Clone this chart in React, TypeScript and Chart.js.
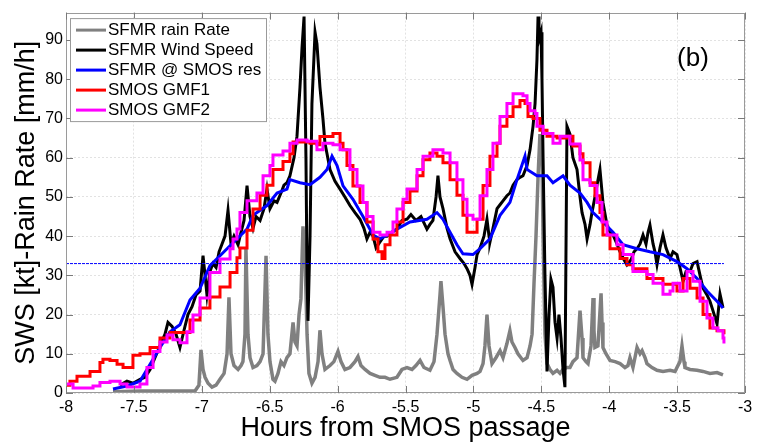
import React, { useEffect, useRef } from 'react';
import { Chart, registerables } from 'chart.js';

Chart.register(...registerables);

const xTickValues = [-8, -7.5, -7, -6.5, -6, -5.5, -5, -4.5, -4, -3.5, -3];
const yTickValues = [0, 10, 20, 30, 40, 50, 60, 70, 80, 90];

const seriesLabels = ['SFMR rain Rate', 'SFMR Wind Speed', 'SFMR @ SMOS res', 'SMOS GMF1', 'SMOS GMF2'];
const seriesColors = ['#808080', '#000000', '#0000ff', '#ff0000', '#ff00ff'];

// SFMR rain rate [mm/h]
const rainHours = [-7.654, -7.455, -7.234, -7.05, -7.021, -7.006, -6.991, -6.976, -6.954, -6.925, -6.895, -6.866, -6.836, -6.814, -6.8, -6.785, -6.763, -6.733, -6.711, -6.697, -6.682, -6.675, -6.66, -6.645, -6.623, -6.594, -6.571, -6.549, -6.527, -6.513, -6.498, -6.476, -6.461, -6.439, -6.417, -6.395, -6.373, -6.351, -6.328, -6.314, -6.299, -6.284, -6.27, -6.255, -6.24, -6.225, -6.211, -6.189, -6.166, -6.144, -6.13, -6.115, -6.093, -6.056, -6.027, -5.997, -5.975, -5.946, -5.909, -5.872, -5.85, -5.828, -5.798, -5.761, -5.725, -5.688, -5.651, -5.614, -5.563, -5.526, -5.489, -5.452, -5.423, -5.393, -5.364, -5.32, -5.29, -5.268, -5.246, -5.239, -5.224, -5.209, -5.187, -5.172, -5.15, -5.121, -5.084, -5.047, -5.01, -4.973, -4.951, -4.929, -4.915, -4.9, -4.885, -4.863, -4.834, -4.804, -4.782, -4.753, -4.731, -4.716, -4.694, -4.672, -4.635, -4.605, -4.583, -4.568, -4.554, -4.539, -4.524, -4.51, -4.495, -4.487, -4.473, -4.458, -4.436, -4.414, -4.384, -4.362, -4.34, -4.311, -4.289, -4.267, -4.237, -4.215, -4.2, -4.193, -4.171, -4.156, -4.134, -4.119, -4.112, -4.105, -4.083, -4.06, -4.053, -4.046, -4.024, -3.994, -3.957, -3.92, -3.884, -3.862, -3.847, -3.825, -3.795, -3.773, -3.758, -3.736, -3.722, -3.685, -3.648, -3.604, -3.552, -3.515, -3.501, -3.479, -3.464, -3.449, -3.442, -3.405, -3.353, -3.309, -3.258, -3.206, -3.162];
const rainRate = [0.3, 0.5, 0.5, 0.5, 2, 11, 6, 4, 2.5, 1.5, 2, 3.5, 5, 10, 24.4, 10, 7, 6, 7, 8, 15, 37, 15, 9, 6.5, 7, 8, 10, 35, 15, 8, 3.5, 3, 5, 8, 7, 9, 10, 18, 13, 12, 20, 24, 42.5, 35, 15, 5, 2.5, 4, 8, 16, 10, 6, 7, 8, 10.6, 8, 6, 6.5, 8, 9.3, 7, 6, 5, 4.5, 4, 4, 3.5, 4, 6, 6.5, 6, 7, 8.3, 6.5, 5.8, 8, 15, 25, 28.5, 22, 15, 10, 8.3, 6, 5, 4, 3.5, 4.5, 5, 5.5, 7.5, 12, 20, 12, 7.5, 9, 10.8, 9, 12.6, 15.9, 13, 11.6, 10, 8.3, 9, 12, 15, 27.7, 40, 55, 66, 60, 40, 15, 7.5, 6, 5, 5.8, 5, 6, 6.5, 6.5, 8, 9, 21, 14, 9, 8, 7.5, 12, 24.2, 16, 11.6, 12, 25.4, 18, 11.6, 10, 8.3, 8, 7.5, 6.5, 7, 9, 6.5, 11.6, 10, 10.8, 9, 7.5, 6.5, 5.8, 5.5, 5.8, 5.5, 6.5, 8, 12, 8, 6.5, 6, 5.8, 5.5, 5, 5.2, 4.6];

// SFMR wind speed [kt]
const windHours = [-7.602, -7.551, -7.507, -7.455, -7.418, -7.381, -7.345, -7.308, -7.271, -7.249, -7.219, -7.19, -7.161, -7.131, -7.102, -7.072, -7.043, -7.013, -6.991, -6.976, -6.962, -6.94, -6.918, -6.895, -6.873, -6.851, -6.829, -6.807, -6.785, -6.763, -6.733, -6.711, -6.689, -6.667, -6.645, -6.623, -6.601, -6.571, -6.542, -6.52, -6.498, -6.468, -6.446, -6.417, -6.395, -6.373, -6.351, -6.321, -6.299, -6.277, -6.262, -6.247, -6.233, -6.225, -6.218, -6.203, -6.189, -6.166, -6.152, -6.13, -6.108, -6.093, -6.078, -6.056, -6.019, -5.982, -5.946, -5.909, -5.872, -5.835, -5.806, -5.784, -5.761, -5.739, -5.717, -5.688, -5.658, -5.636, -5.599, -5.563, -5.526, -5.489, -5.46, -5.423, -5.386, -5.342, -5.32, -5.298, -5.275, -5.261, -5.246, -5.224, -5.194, -5.172, -5.135, -5.099, -5.069, -5.047, -5.025, -5.01, -4.988, -4.973, -4.951, -4.922, -4.9, -4.885, -4.878, -4.856, -4.826, -4.804, -4.782, -4.753, -4.731, -4.708, -4.679, -4.657, -4.635, -4.605, -4.583, -4.561, -4.546, -4.532, -4.524, -4.517, -4.502, -4.495, -4.487, -4.473, -4.458, -4.443, -4.429, -4.414, -4.399, -4.384, -4.37, -4.355, -4.34, -4.326, -4.311, -4.289, -4.267, -4.237, -4.215, -4.2, -4.178, -4.163, -4.141, -4.127, -4.105, -4.09, -4.068, -4.046, -4.016, -3.994, -3.972, -3.943, -3.92, -3.891, -3.869, -3.839, -3.817, -3.795, -3.773, -3.751, -3.729, -3.714, -3.7, -3.677, -3.663, -3.648, -3.626, -3.604, -3.582, -3.552, -3.53, -3.501, -3.479, -3.456, -3.434, -3.405, -3.383, -3.353, -3.331, -3.309, -3.28, -3.258, -3.236, -3.206, -3.184, -3.162];
const windSpeed = [2, 3, 2.5, 3.5, 4, 6, 9, 12, 15, 18, 17, 15, 11.6, 16, 20, 22, 25, 26, 35, 30, 25, 31, 33, 32, 36, 38, 40, 46.6, 38, 40, 37.8, 41, 44, 52.9, 45, 42, 45, 44, 47, 52, 47, 49, 48.6, 51, 53, 53.6, 55.4, 60, 65.5, 78, 88, 96, 60, 30, 18.4, 40, 73.8, 92, 89, 78, 70, 63.7, 61, 57, 54, 52, 50, 47.8, 46, 44.3, 42, 39.3, 41, 40, 37, 38.5, 40, 40, 41, 41.8, 44, 44.3, 45.5, 44, 45, 41.8, 43, 44, 50, 55.4, 50, 47, 42, 39.3, 36, 34.3, 33, 31.7, 30, 27.7, 32, 35.3, 37, 40, 44.3, 40, 38.5, 42, 47, 48, 49, 50.3, 51, 53, 54.4, 55, 55.4, 58, 62, 68, 73.8, 85, 96, 90, 92, 80, 60, 30, 5.5, 20, 29, 27, 18, 14, 20, 14, 6, 1.5, 68, 66, 60, 57, 50, 46, 43, 39.3, 43, 46, 50, 53, 57, 48.6, 42.8, 41, 40.3, 38, 36, 34, 32.7, 34, 36, 36.8, 38, 40.3, 38, 41, 42.8, 38, 36, 32.7, 37, 40.3, 37, 34.3, 36, 35.3, 32, 28.5, 31, 31, 33, 33.5, 30, 26.7, 25, 23.4, 21, 17.6, 25.2, 21.7];

// SFMR wind speed averaged at SMOS resolution [kt]
const smosResHours = [-7.654, -7.551, -7.455, -7.381, -7.308, -7.234, -7.161, -7.087, -7.013, -6.94, -6.866, -6.77, -6.667, -6.623, -6.52, -6.446, -6.373, -6.351, -6.277, -6.203, -6.13, -6.078, -6.041, -6.004, -5.96, -5.887, -5.813, -5.739, -5.688, -5.636, -5.563, -5.467, -5.342, -5.268, -5.224, -5.172, -5.121, -5.077, -5.003, -4.951, -4.878, -4.804, -4.731, -4.679, -4.62, -4.605, -4.532, -4.458, -4.414, -4.34, -4.289, -4.215, -4.163, -4.119, -4.046, -3.972, -3.898, -3.795, -3.7, -3.604, -3.501, -3.427, -3.353, -3.28, -3.206, -3.162];
const smosResSpeed = [1, 1.8, 3, 7.3, 11.6, 15.6, 17.4, 23.7, 26.7, 32.5, 35, 38.3, 41.8, 45.3, 47.8, 51, 52, 54.4, 53.6, 53.1, 55, 57, 60.4, 58, 52.8, 49.4, 45, 40.3, 39.3, 40.3, 41.8, 43.6, 44.3, 46, 44.3, 41, 37.8, 35.5, 35.3, 36.8, 39.3, 45.3, 48.6, 54.4, 60.4, 57, 55.4, 55.4, 53.6, 55.4, 53, 51, 48.6, 46, 43.6, 41, 37.8, 36.8, 36, 35.3, 33.5, 31.7, 29.2, 26, 23.4, 21.7];

// SMOS GMF1 [kt]
const gmf1Hours = [-8, -7.971, -7.919, -7.823, -7.75, -7.728, -7.676, -7.624, -7.58, -7.507, -7.455, -7.381, -7.308, -7.234, -7.124, -7.087, -7.013, -6.94, -6.866, -6.792, -6.741, -6.719, -6.667, -6.623, -6.571, -6.52, -6.476, -6.402, -6.351, -6.328, -6.203, -6.152, -6.13, -6.034, -5.982, -5.96, -5.931, -5.887, -5.835, -5.784, -5.739, -5.703, -5.673, -5.651, -5.614, -5.563, -5.518, -5.467, -5.415, -5.371, -5.32, -5.268, -5.224, -5.172, -5.121, -5.077, -5.047, -5.003, -4.973, -4.929, -4.878, -4.826, -4.804, -4.753, -4.708, -4.657, -4.62, -4.598, -4.561, -4.51, -4.458, -4.384, -4.311, -4.267, -4.215, -4.193, -4.141, -4.105, -4.068, -4.046, -3.994, -3.92, -3.869, -3.825, -3.722, -3.604, -3.501, -3.456, -3.405, -3.353, -3.309, -3.258, -3.206, -3.155];
const gmf1Speed = [2, 3, 4.3, 5.5, 7.8, 8.6, 8.3, 7.3, 6.5, 9.6, 10, 11.6, 14, 15.4, 15.4, 18.6, 21.7, 24.5, 27, 30.7, 34.5, 37, 41.5, 46.9, 50.4, 53, 57, 59, 61, 64, 63.7, 63.3, 65.4, 66.2, 63.7, 62, 58, 52.8, 48.6, 43.6, 39.3, 36, 34.3, 37.8, 40.3, 43.6, 48.6, 51.5, 55.4, 59.5, 61.2, 60.4, 58.7, 54.4, 50.4, 45.3, 41, 41, 44.3, 52.9, 60.4, 63.7, 68, 70.5, 73, 74.6, 73.8, 70.5, 70, 67, 65.5, 65, 65.5, 63, 61, 58.7, 53.6, 50.3, 46, 40.3, 36.8, 34.3, 32.7, 31.7, 29.2, 27.7, 26, 29.2, 26.7, 24.2, 20, 16.6, 15.9, 15];

// SMOS GMF2 [kt]
const gmf2Hours = [-8, -7.948, -7.875, -7.801, -7.75, -7.676, -7.602, -7.551, -7.455, -7.404, -7.359, -7.308, -7.256, -7.212, -7.161, -7.109, -7.065, -7.013, -6.94, -6.866, -6.792, -6.77, -6.741, -6.719, -6.667, -6.594, -6.549, -6.498, -6.476, -6.402, -6.351, -6.299, -6.225, -6.152, -6.108, -6.034, -5.982, -5.909, -5.857, -5.813, -5.784, -5.739, -5.688, -5.636, -5.592, -5.563, -5.518, -5.489, -5.415, -5.371, -5.298, -5.224, -5.172, -5.121, -5.077, -5.047, -5.003, -4.951, -4.9, -4.856, -4.804, -4.753, -4.708, -4.635, -4.605, -4.583, -4.546, -4.532, -4.487, -4.414, -4.362, -4.289, -4.215, -4.193, -4.141, -4.09, -4.053, -4.016, -3.943, -3.898, -3.847, -3.825, -3.722, -3.677, -3.604, -3.552, -3.53, -3.479, -3.427, -3.383, -3.331, -3.28, -3.236, -3.199, -3.162, -3.155];
const gmf2Speed = [2.3, 1.3, 1.3, 1.8, 2.7, 3, 2.3, 1.5, 2.3, 6.5, 10.6, 13, 14.8, 13.6, 12.8, 15.6, 19.9, 24.2, 30.7, 34.2, 36.8, 39.3, 41.8, 46, 49, 51, 55.4, 58, 60.7, 61.7, 63.7, 64.5, 64.2, 62, 63.7, 63.3, 62, 57, 52.8, 48.6, 45, 41, 40.3, 41, 43.6, 46.9, 49.4, 52, 57, 60.4, 62, 61.2, 58.7, 54.4, 49.4, 45.3, 44.3, 50.3, 57, 63.7, 70.5, 73.8, 76.3, 75.8, 73.8, 72, 71.3, 68, 66.2, 63.7, 65.5, 63.5, 59.4, 54.4, 52.9, 48.6, 43.6, 40.3, 37.8, 35.3, 35.3, 31, 30.2, 28, 25.2, 26, 28, 26, 31, 28.5, 23.4, 19.1, 16.6, 15.9, 14, 12.6];

// dotted reference level [kt]
const refHours = [-8, -3.155];
const refLevel = [33, 33];

const FONT = '"Liberation Sans", Arial, Helvetica, sans-serif';

const pts = (xs: number[], ys: number[]) => xs.map((x, i) => ({ x, y: ys[i] }));

const decorPlugin = {
  id: 'decor',
  afterDraw(chart: any) {
    const { ctx, chartArea, scales } = chart;
    const { left, right, top, bottom } = chartArea;
    const xs = scales.x;
    const ys = scales.y;
    ctx.save();
    ctx.strokeStyle = '#9a9a9a';
    ctx.lineWidth = 1;
    ctx.strokeRect(Math.round(left) + 0.5, Math.round(top) + 0.5, Math.round(right - left) - 1, Math.round(bottom - top) - 1);
    ctx.strokeStyle = '#7a7a7a';
    ctx.beginPath();
    const tl = 7;
    xTickValues.forEach((v) => {
      const px = Math.round(xs.getPixelForValue(v)) + 0.5;
      ctx.moveTo(px, bottom);
      ctx.lineTo(px, bottom - tl);
      ctx.moveTo(px, top);
      ctx.lineTo(px, top + tl);
    });
    yTickValues.forEach((v) => {
      const py = Math.round(ys.getPixelForValue(v)) + 0.5;
      ctx.moveTo(left, py);
      ctx.lineTo(left + tl, py);
      ctx.moveTo(right, py);
      ctx.lineTo(right - tl, py);
    });
    ctx.stroke();

    const bx = left + 4;
    const by = top + 5.5;
    const bw = 196;
    const bh = 103;
    ctx.fillStyle = '#ffffff';
    ctx.fillRect(bx, by, bw, bh);
    ctx.strokeStyle = '#9a9a9a';
    ctx.lineWidth = 1;
    ctx.strokeRect(bx + 0.5, by + 0.5, bw, bh);
    ctx.font = `17px ${FONT}`;
    ctx.textBaseline = 'middle';
    ctx.textAlign = 'left';
    seriesLabels.forEach((lab, i) => {
      const cy = by + 12 + i * 20;
      ctx.strokeStyle = seriesColors[i];
      ctx.lineWidth = 3;
      ctx.beginPath();
      ctx.moveTo(bx + 6, cy);
      ctx.lineTo(bx + 36, cy);
      ctx.stroke();
      ctx.fillStyle = '#000000';
      ctx.fillText(lab, bx + 38, cy + 0.5);
    });

    ctx.font = `26px ${FONT}`;
    ctx.textAlign = 'center';
    ctx.fillStyle = '#000000';
    ctx.fillText('(b)', 693, 59);
    ctx.restore();
  },
};

export default function App() {
  const ref = useRef<HTMLCanvasElement | null>(null);

  useEffect(() => {
    if (!ref.current) return;
    Chart.defaults.font.family = FONT;
    const line = (label: string, xs: number[], ys: number[], color: string, extra: any) => ({
      label,
      data: pts(xs, ys),
      borderColor: color,
      backgroundColor: color,
      borderWidth: 3,
      pointRadius: 0,
      tension: 0,
      fill: false,
      ...extra,
    });
    const chart = new Chart(ref.current, {
      type: 'line',
      data: {
        datasets: [
          line('ref', refHours, refLevel, '#0000ff', { borderWidth: 1, borderDash: [3, 1], order: 0 }),
          line(seriesLabels[4], gmf2Hours, gmf2Speed, seriesColors[4], { stepped: true, order: 1 }),
          line(seriesLabels[3], gmf1Hours, gmf1Speed, seriesColors[3], { stepped: true, order: 2 }),
          line(seriesLabels[2], smosResHours, smosResSpeed, seriesColors[2], { order: 3 }),
          line(seriesLabels[1], windHours, windSpeed, seriesColors[1], { order: 4 }),
          line(seriesLabels[0], rainHours, rainRate, seriesColors[0], { borderWidth: 3.5, order: 5 }),
        ],
      },
      options: {
        responsive: false,
        animation: false,
        devicePixelRatio: 1,
        layout: { padding: { left: 0, right: 13, top: 7, bottom: 0 } },
        plugins: { legend: { display: false }, tooltip: { enabled: false } },
        scales: {
          x: {
            type: 'linear',
            min: -8,
            max: -3,
            afterFit: (s: any) => { s.height = 55; },
            afterBuildTicks: (s: any) => { s.ticks = xTickValues.map((v) => ({ value: v })); },
            ticks: {
              color: '#000',
              font: { size: 16, family: FONT },
              padding: 5,
              maxRotation: 0,
              autoSkip: false,
              callback: (v: any) => String(v),
            },
            grid: { color: '#e2e2e2', lineWidth: 1, drawTicks: false },
            border: { display: false, dash: [2, 2] },
            title: {
              display: true,
              text: 'Hours from SMOS passage',
              color: '#000',
              font: { size: 27, family: FONT },
              padding: { top: 0, bottom: 3 },
            },
          },
          y: {
            type: 'linear',
            min: 0,
            max: 97,
            afterFit: (s: any) => { s.width = 66; },
            afterBuildTicks: (s: any) => { s.ticks = yTickValues.map((v) => ({ value: v })); },
            ticks: {
              color: '#000',
              font: { size: 16, family: FONT },
              padding: 3,
              autoSkip: false,
              callback: (v: any) => String(v),
            },
            grid: { color: '#e2e2e2', lineWidth: 1, drawTicks: false },
            border: { display: false, dash: [2, 2] },
            title: {
              display: true,
              text: 'SWS [kt]-Rain Rate [mm/h]',
              color: '#000',
              font: { size: 27, family: FONT },
              padding: { top: 10, bottom: 0 },
            },
          },
        },
      },
      plugins: [decorPlugin],
    });
    return () => chart.destroy();
  }, []);

  return (
    <div style={{ position: 'absolute', left: 0, top: 0, width: 758, height: 448, background: '#fff' }}>
      <canvas ref={ref} width={758} height={448} style={{ display: 'block', width: 758, height: 448 }} />
    </div>
  );
}
